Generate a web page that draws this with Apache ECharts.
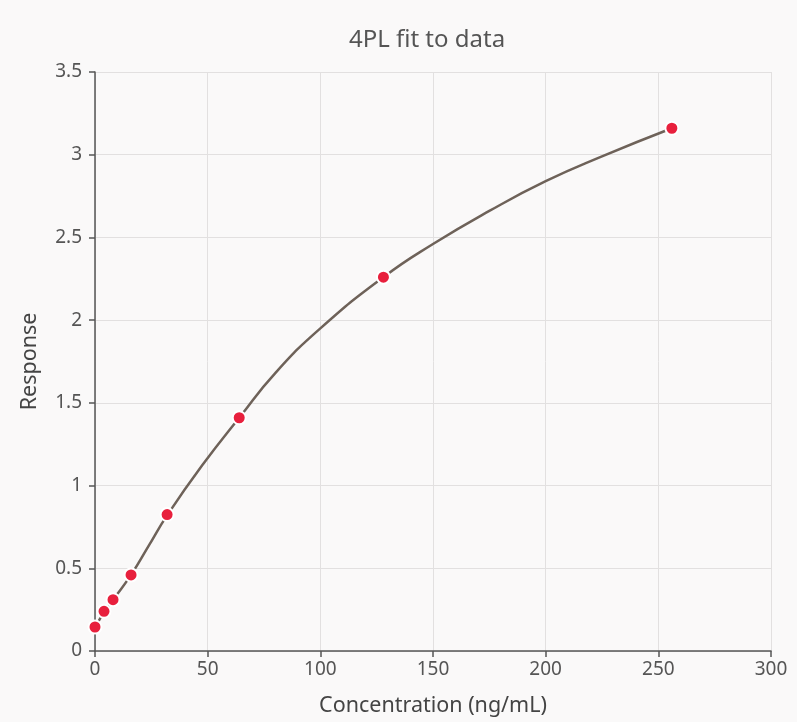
<!DOCTYPE html>
<html>
<head>
	<meta charset="utf-8">
	<title>4PL fit to data</title>
	<style>
		html, body { margin: 0; padding: 0; background: #faf9f9; }
		#box_1 { width: 797px; height: 722px; }
	</style>
</head>
<body>
	<div id="box_1"></div>
</body>
<script src="https://cdn.jsdelivr.net/npm/echarts@6/dist/echarts.min.js"></script>
<script>
	// measured points
	var concX = [0, 4, 8, 16, 32, 64, 128, 256]
	var respY = [0.145, 0.24, 0.31, 0.46, 0.825, 1.41, 2.26, 3.16]
	// fitted curve
	var fitX = [0, 4, 8, 16, 24, 32, 48, 64, 80, 100, 128, 150, 175, 200, 225, 256]
	var fitY = [0.14, 0.235, 0.31, 0.46, 0.64, 0.82, 1.13, 1.41, 1.68, 1.95, 2.26, 2.46, 2.66, 2.84, 2.99, 3.16]

	var pts = []
	for (var i = 0; i < concX.length; i++) pts.push([concX[i], respY[i]])
	var fit = []
	for (var j = 0; j < fitX.length; j++) fit.push([fitX[j], fitY[j]])

	var font = 'Noto Sans, Liberation Sans, sans-serif'
	var myChart = echarts.init(document.getElementById('box_1'))
	var option = {
		backgroundColor: '#faf9f9',
		animation: false,
		textStyle: { fontFamily: font },
		title: {
			text: '4PL fit to data',
			left: 422,
			top: 23,
			textAlign: 'center',
			textStyle: { color: '#555', fontSize: 24, fontWeight: 'normal', fontFamily: font }
		},
		grid: { left: 95, right: 26, top: 72, bottom: 71 },
		xAxis: {
			type: 'value',
			min: 0,
			max: 300,
			interval: 50,
			name: 'Concentration (ng/mL)',
			nameLocation: 'middle',
			nameGap: 44,
			nameTextStyle: { color: '#444', fontSize: 21.5 },
			axisLine: { show: true, lineStyle: { color: '#555', width: 1.5 } },
			axisTick: { show: true, length: 6, lineStyle: { color: '#555', width: 1.5 } },
			axisLabel: { color: '#555', fontSize: 19, margin: 9 },
			splitLine: { show: true, lineStyle: { color: '#e2e0e0', width: 1 } }
		},
		yAxis: {
			type: 'value',
			min: 0,
			max: 3.5,
			interval: 0.5,
			name: 'Response',
			nameLocation: 'middle',
			nameGap: 54,
			nameTextStyle: { color: '#444', fontSize: 21.5 },
			axisLine: { show: true, lineStyle: { color: '#555', width: 1.5 } },
			axisTick: { show: true, length: 6, lineStyle: { color: '#555', width: 1.5 } },
			axisLabel: { color: '#555', fontSize: 19, margin: 13 },
			splitLine: { show: true, lineStyle: { color: '#e2e0e0', width: 1 } }
		},
		series: [
			{
				name: 'fit',
				type: 'line',
				data: fit,
				smooth: 0.5,
				showSymbol: false,
				lineStyle: { color: '#6e6259', width: 2.5 },
				z: 2
			},
			{
				name: 'data',
				type: 'scatter',
				data: pts,
				symbolSize: 13,
				itemStyle: { color: '#e8203d', borderColor: '#fff', borderWidth: 2, opacity: 1 },
				z: 3
			}
		]
	}
	myChart.setOption(option)
</script>
</html>
